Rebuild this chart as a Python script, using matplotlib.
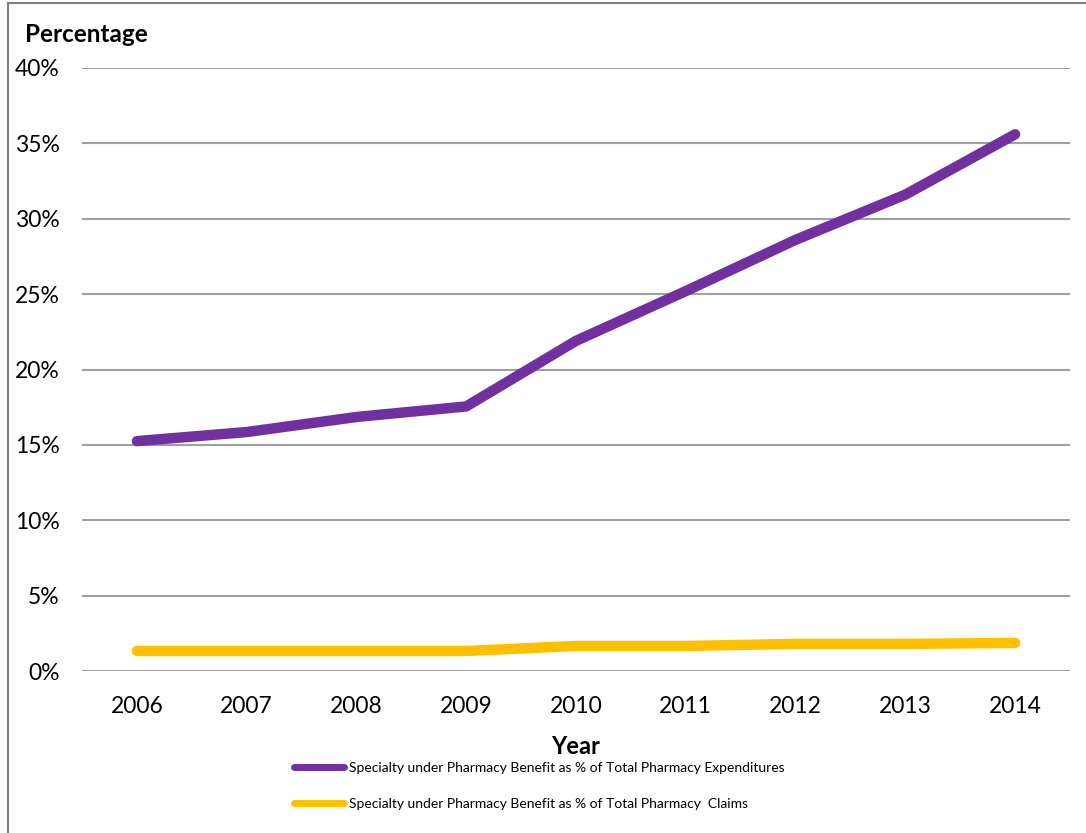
import matplotlib
matplotlib.use("Agg")
import matplotlib.pyplot as plt
from matplotlib.lines import Line2D
from matplotlib.ticker import FuncFormatter

plt.rcParams['font.family'] = ['Lato', 'DejaVu Sans']

years = ['2006', '2007', '2008', '2009', '2010', '2011', '2012', '2013', '2014']
expenditures = [15.25, 15.85, 16.85, 17.55, 21.9, 25.2, 28.6, 31.6, 35.6]
claims = [1.33, 1.33, 1.33, 1.33, 1.66, 1.66, 1.8, 1.8, 1.86]
label_exp = 'Specialty under Pharmacy Benefit as % of Total Pharmacy Expenditures'
label_clm = 'Specialty under Pharmacy Benefit as % of Total Pharmacy  Claims'
yticks = [0, 5, 10, 15, 20, 25, 30, 35, 40]

purple = '#7030A0'
gold = '#FFC000'
grid_gray = '#A0A0A0'

W, H = 1086, 833
fig = plt.figure(figsize=(W / 100, H / 100), dpi=100)
ax = fig.add_axes([82 / W, 1 - 671 / H, (1070 - 82) / W, (671 - 68) / H])

x = list(range(len(years)))
ax.plot(x, expenditures, color=purple, lw=7.5, solid_capstyle='round',
        solid_joinstyle='round', label=label_exp, zorder=3)
ax.plot(x, claims, color=gold, lw=7.5, solid_capstyle='round',
        solid_joinstyle='round', label=label_clm, zorder=3)

ax.set_xlim(-0.5, len(years) - 0.5)
ax.set_ylim(0, 40)
ax.set_xticks(x)
ax.set_xticklabels(years)
ax.set_yticks(yticks)
ax.yaxis.set_major_formatter(FuncFormatter(lambda v, p: f'{int(v)}%'))
ax.tick_params(axis='both', length=0, labelsize=16.5, colors='black')
ax.tick_params(axis='x', pad=18)
ax.tick_params(axis='y', pad=16)

ax.grid(axis='y', color=grid_gray, lw=1.5)
ax.set_axisbelow(True)
for s in ax.spines.values():
    s.set_visible(False)

fig.text(25 / W, 1 - 34 / H, 'Percentage', fontsize=17.5, fontweight='bold',
         ha='left', va='center')
fig.text(576 / W, 1 - 747 / H, 'Year', fontsize=17, fontweight='bold',
         ha='center', va='center')

handles = [Line2D([], [], color=purple, lw=5, solid_capstyle='round'),
           Line2D([], [], color=gold, lw=5, solid_capstyle='round')]
fig.legend(handles, [label_exp, label_clm], loc='upper left',
           bbox_to_anchor=(294 / W, 1 - 762 / H), frameon=False,
           fontsize=10, handlelength=3.6, handletextpad=0.35,
           labelspacing=1.75, borderpad=0, borderaxespad=0)

# figure border on left and top
fig.add_artist(Line2D([8 / W, 8 / W], [0, 1 - 3 / H], transform=fig.transFigure,
                      color='#808080', lw=1.5))
fig.add_artist(Line2D([8 / W, 1], [1 - 3 / H, 1 - 3 / H], transform=fig.transFigure,
                      color='#808080', lw=1.5))

fig.savefig('out.png', dpi=100, facecolor='white')
